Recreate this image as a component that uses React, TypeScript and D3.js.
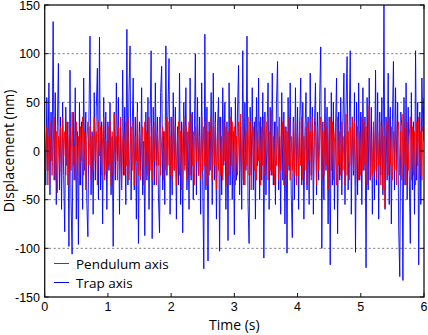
import React from 'react';
import * as d3 from 'd3';

// sampled at 60 Hz over 6 s, one row per second
const trapAxis = [
  20, -35, 55, -20, 70, -45, 40, -10, 133, -30, 60, -55, 25, 90, -40, 35, -60, 50, -25, -83, 45, -15, 30, -98, 83, -50, -106, 40, -30, 65, -70, 20, -96, 50, -35, 30, -60, 75, -20, 40, -55, -88, 35, 118, -45, 20, -65, 60, -30, 45, 85, -50, 117, -40, 30, -75, 55, -25, 40, -60,
  30, -20, 50, -45, 15, -98, 40, -30, 70, -10, 55, -65, 25, -40, 83, -25, 45, -55, 125, -35, 60, 108, -50, 20, 75, -40, 35, -70, 50, -95, 30, -20, 65, -45, 10, -87, 40, -30, 55, -60, 25, 103, -90, 45, -35, 70, -15, 35, -50, -84, 60, 87, -40, 20, -55, 108, -25, 40, 95, -65,
  35, -45, 60, -20, 45, -70, 25, -35, 80, -55, 30, -84, 50, -15, 65, -40, 20, -60, 75, -30, 40, -50, 15, 100, -45, 55, -25, 35, -65, 70, -35, -121, 120, -40, 45, -113, 30, -20, 60, -55, 80, -30, 40, -70, 25, 55, -103, 35, -45, 65, -15, 50, -60, 30, -92, 70, -35, 45, -50, 20,
  -86, 55, -30, 40, 88, -45, 25, -60, 103, -35, 50, -20, 118, -55, -95, 45, -25, 65, -40, 30, -70, 55, -15, 75, -50, 35, -30, 60, -110, 40, -45, 20, 70, -60, 45, -25, 80, -35, 30, -55, 50, 92, -40, 15, -65, 60, -30, 40, -75, 25, -105, 55, -20, 70, -45, -89, 35, -50, 65, -25,
  45, -60, 30, 75, -35, 50, -70, 20, 60, -40, 35, -55, 80, -25, 45, -65, 25, 70, -45, 40, -30, 55, 107, -100, 30, -50, 65, -20, 45, -75, 35, -117, 60, -35, 50, -60, 20, 75, -85, 40, -30, 55, -45, 30, 80, -55, 45, 97, -40, 25, 103, -65, 35, -25, 60, -104, 50, -45, 70, -30,
  40, -55, 65, -20, 35, -120, 55, -40, 75, -30, 45, -65, 25, -50, 83, -35, 60, -70, 40, -25, 55, -45, 150, -60, 35, -30, 80, -55, 45, -75, 30, 92, -40, 65, -20, 50, -80, -129, 40, 25, -133, 55, -35, 70, -50, 45, -25, -95, 60, -40, 30, -65, 103, -30, 50, -117, 40, -55, 75, 20, 55,
];

const pendulumAxis = [
  10, -20, 25, -35, 15, -10, 30, -25, 5, 35, -30, 20, -43, 15, -15, 25, -30, 35, -5, 20, -25, 30, -35, 10, 25, -20, 40, -15, 5, -30, 30, -20, 15, -35, 25, -10, 35, -25, 20, -40, 10, 30, -15, 25, -30, 15, -20, 35, -10, 20, -35, 30, -5, 25, -25, 15, 35, -30, 10, -20,
  25, -15, 30, -35, 20, -25, 38, -10, 15, -30, 25, -20, 35, -40, 10, 20, -25, 30, -15, 35, -30, 5, 25, -20, 30, -35, 15, -10, 40, -25, 20, -30, 10, 25, -35, 30, -15, 20, -25, 35, -20, 15, -30, 25, -10, 30, -35, 20, -15, 35, -25, 10, 25, -30, 20, -20, 35, -15, 30, -25,
  15, -30, 35, -20, 25, -35, 10, 30, -25, 20, -40, 15, 35, -20, 25, -30, 5, 30, -25, 38, -15, 20, -35, 25, -10, 30, -25, 15, -30, 35, -20, 25, -15, 30, -35, 20, -25, 10, 35, -30, 25, -15, 30, -40, 20, -20, 35, -25, 15, -30, 30, -10, 25, -35, 20, -25, 35, -15, 30, -20,
  25, -35, 15, -25, 30, -20, 38, -30, 10, 25, -35, 20, -15, 35, -25, 30, -40, 15, 25, -20, 35, -30, 20, -10, 30, -35, 25, -15, 35, -25, 10, 30, -30, 20, -20, 42, -25, 15, -35, 30, -15, 25, -30, 35, -20, 10, 30, -35, 25, -25, 20, -15, 35, -30, 15, -20, 30, -25, 35, -35,
  20, -25, 30, -15, 35, -30, 15, -20, 25, -35, 30, -10, 20, -30, 35, -25, 15, 30, -35, 25, -20, 10, 35, -30, 20, -25, 30, -15, 25, -40, 15, 35, -20, 30, -30, 10, 25, -35, 35, -15, 20, -25, 30, -20, 15, -35, 38, -25, 20, -30, 25, -15, 35, -20, 30, -35, 10, 25, -30, 20,
  -25, 35, -20, 30, -15, 25, -35, 20, 47, -30, 15, -25, 30, -20, 35, -30, 20, -15, 30, -35, 25, -40, 15, -58, 20, 30, -25, 35, -15, 25, -30, 20, -20, 35, -35, 15, 30, -25, 20, -30, 38, -15, 25, -35, 30, -20, 15, 35, -30, 25, -25, 20, -35, 30, -15, 35, -25, 20, -30, 25, 10,
];

const xTicks = [0, 1, 2, 3, 4, 5, 6];
const yTicks = [-150, -100, -50, 0, 50, 100, 150];
const gridLevels = [-100, -50, 50, 100];
const legendItems = [
  { label: 'Pendulum axis', color: '#ff0000' },
  { label: 'Trap axis', color: '#0000ff' },
];

const W = 428, H = 335;
const left = 44.7, right = 424, top = 5, bottom = 297;

export default function App() {
  const x = d3.scaleLinear().domain([0, 6]).range([left, right]);
  const y = d3.scaleLinear().domain([-150, 150]).range([bottom, top]);

  const pathFor = (vals: number[]) =>
    d3.line<number>()
      .x((_, i) => x((i * 6) / (vals.length - 1)))
      .y(d => y(d))(vals) || '';

  const tickFont = '"Liberation Sans", Arial, sans-serif';
  const labelFont = '"Open Sans", sans-serif';

  return (
    <svg width={W} height={H} style={{ position: 'absolute', left: 0, top: 0, background: '#fff' }}>
      <defs>
        <clipPath id="plot">
          <rect x={left} y={top} width={right - left} height={bottom - top} />
        </clipPath>
      </defs>

      {gridLevels.map(v => (
        <line key={v} x1={left} x2={right} y1={y(v)} y2={y(v)}
          stroke="#555" strokeWidth={0.8} strokeDasharray="2,2.5" />
      ))}

      <g clipPath="url(#plot)" fill="none">
        <path d={pathFor(trapAxis)} stroke="#0000ff" strokeWidth={0.9} />
        <path d={pathFor(pendulumAxis)} stroke="#ff0000" strokeWidth={0.9} />
      </g>

      {/* legend */}
      <rect x={47} y={256} width={130} height={39} fill="#fff" />
      {legendItems.map((d, i) => (
        <g key={d.label} transform={`translate(0,${263.5 + i * 19})`}>
          <line x1={54} x2={69} y1={0} y2={0} stroke={d.color} strokeWidth={1} />
          <text x={76} y={5.5} fontFamily={labelFont} fontSize={13.5} fill="#000">{d.label}</text>
        </g>
      ))}

      {/* box and ticks */}
      <rect x={left} y={top} width={right - left} height={bottom - top} fill="none" stroke="#111" strokeWidth={1.3} />
      {xTicks.map(t => (
        <g key={t}>
          <line x1={x(t)} x2={x(t)} y1={bottom} y2={bottom - 4} stroke="#111" />
          <line x1={x(t)} x2={x(t)} y1={top} y2={top + 4} stroke="#111" />
          <text x={x(t)} y={311} textAnchor="middle" fontFamily={tickFont} fontSize={12.5}>{t}</text>
        </g>
      ))}
      {yTicks.map(t => (
        <g key={t}>
          <line x1={left} x2={left + 4} y1={y(t)} y2={y(t)} stroke="#111" />
          <line x1={right} x2={right - 4} y1={y(t)} y2={y(t)} stroke="#111" />
          <text x={40} y={y(t) + 4.5} textAnchor="end" fontFamily={tickFont} fontSize={12.5}>{t}</text>
        </g>
      ))}

      <text x={(left + right) / 2} y={330} textAnchor="middle" fontFamily={labelFont} fontSize={14}>Time (s)</text>
      <text transform={`translate(14,${(top + bottom) / 2}) rotate(-90)`} textAnchor="middle"
        fontFamily={labelFont} fontSize={14}>Displacement (nm)</text>
    </svg>
  );
}
